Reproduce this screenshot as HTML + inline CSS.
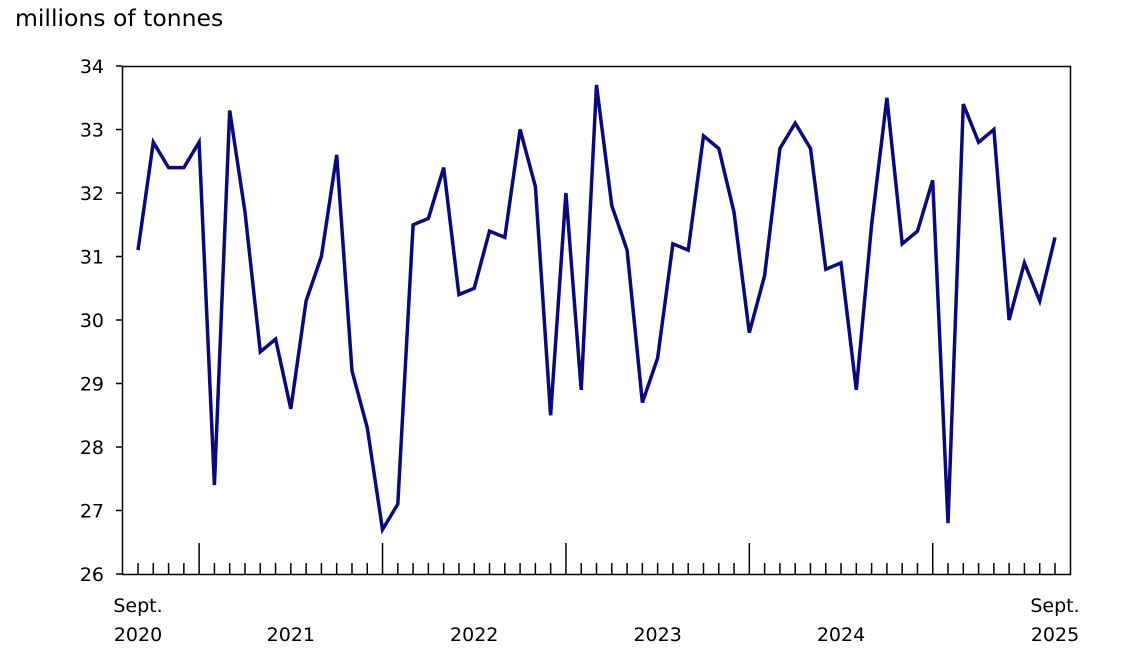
<!DOCTYPE html>
<html><head><meta charset="utf-8"><style>
html,body{margin:0;padding:0;background:#fff;}
svg{display:block;font-family:"DejaVu Sans","Liberation Sans",sans-serif;}
</style></head><body>
<svg id="c" width="1127" height="660" viewBox="0 0 1127 660" xmlns="http://www.w3.org/2000/svg">
<text x="15" y="26" font-size="23.5" fill="#000">millions of tonnes</text>
<rect x="122.5" y="66.5" width="948" height="508" fill="none" stroke="#000" stroke-width="1.5"/>
<g id="g"></g>
</svg>
<script>
var d=[31.1,32.8,32.4,32.4,32.8,27.4,33.3,31.7,29.5,29.7,28.6,30.3,31.0,32.6,29.2,28.3,26.7,27.1,31.5,31.6,32.4,30.4,30.5,31.4,31.3,33.0,32.1,28.5,32.0,28.9,33.7,31.8,31.1,28.7,29.4,31.2,31.1,32.9,32.7,31.7,29.8,30.7,32.7,33.1,32.7,30.8,30.9,28.9,31.5,33.5,31.2,31.4,32.2,26.8,33.4,32.8,33.0,30.0,30.9,30.3,31.3];
var s='';
function X(i){return 138+i*917/60;}
function Y(v){return 574-(v-26)*63.5;}
for(var v=26;v<=34;v++){var y=Y(v);
s+='<line x1="116" x2="122" y1="'+y+'" y2="'+y+'" stroke="#000" stroke-width="1.5"/>';
s+='<text x="104" y="'+(y+7)+'" font-size="19" text-anchor="end">'+v+'</text>';}
for(var i=0;i<=60;i++){var x=X(i);var big=(i-4)%12==0;
s+='<line x1="'+x+'" x2="'+x+'" y1="'+(big?543:563)+'" y2="574" stroke="#000" stroke-width="1.5"/>';}
s+='<text x="138" y="612" font-size="19" text-anchor="middle">Sept.</text><text x="138" y="641" font-size="19" text-anchor="middle">2020</text>';
s+='<text x="1055" y="612" font-size="19" text-anchor="middle">Sept.</text><text x="1055" y="641" font-size="19" text-anchor="middle">2025</text>';
var yrs=['2021','2022','2023','2024'];
for(var k=0;k<4;k++){s+='<text x="'+(X(4+12*k)+91.7)+'" y="641" font-size="19" text-anchor="middle">'+yrs[k]+'</text>';}
var p=d.map(function(v,i){return X(i).toFixed(1)+','+Y(v).toFixed(1);}).join(' ');
s+='<polyline points="'+p+'" fill="none" stroke="#0a0a7a" stroke-width="3.5" stroke-linejoin="miter"/>';
document.getElementById('g').innerHTML=s;
</script>
</body></html>
